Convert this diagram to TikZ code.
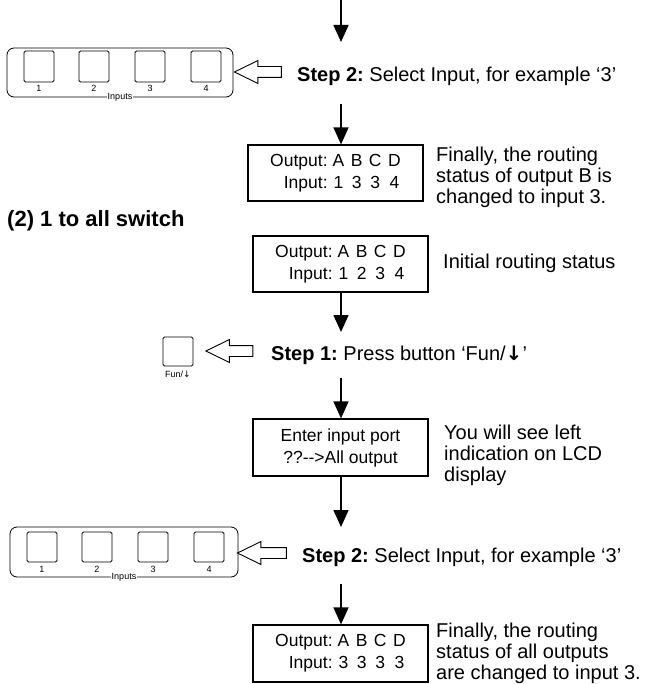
\documentclass[tikz,border=0pt]{standalone}
\usepackage{fontspec}
\setmainfont{Liberation Sans}
\newfontfamily\arrowfont{DejaVu Sans}
\usetikzlibrary{arrows.meta,shapes.arrows}

\newcommand{\routing}[4]{\begin{tabular}{@{}r@{\hspace{5pt}}c@{\hspace{6.5pt}}c@{\hspace{6.5pt}}c@{\hspace{6.5pt}}c@{}}Output: & A & B & C & D\\ Input: & #1 & #2 & #3 & #4\end{tabular}}

\begin{document}
\begin{tikzpicture}[x=1pt,y=-1pt,
    flow/.style={line width=1.6pt,-{Triangle[width=15pt,length=17pt]}},
    lcd/.style={draw,line width=1.2pt,minimum width=175pt,minimum height=56pt,inner sep=0pt,font=\fontsize{17.5}{22}\selectfont},
    note/.style={anchor=base west,align=left,inner sep=0pt,font=\fontsize{20}{21}\selectfont},
    steptxt/.style={anchor=base west,inner sep=0pt,font=\fontsize{20}{24}\selectfont},
    hollow/.style={single arrow,draw,line width=0.9pt,rotate=180,inner xsep=0pt,inner ysep=5pt,single arrow head extend=6pt,single arrow tip angle=52,minimum height=47pt},
    panel/.style={draw,rounded corners=7pt,line width=0.8pt},
    key/.style={draw,rounded corners=1.5pt,line width=0.8pt,minimum width=30pt,minimum height=30pt,inner sep=0pt},
    keynum/.style={font=\fontsize{9}{9}\selectfont,inner sep=0pt}]
    \useasboundingbox (0,0) rectangle (651,684);

    % input panel, step 2 of the first part
    \node[panel,minimum width=226pt,minimum height=49pt] at (120,72.5) (ptop) {};
    \foreach \i/\x in {1/39,2/94,3/150,4/206}{
        \node[key,minimum height=31pt] at (\x,66.5) (ka\i) {};
        \node[keynum] at (\x,88) (na\i) {\i};
    }
    \node[keynum,fill=white,inner xsep=1pt] at (ptop.south) (ia) {Inputs};
    \node[hollow] at (263.5,72) (ha1) {};
    \node[steptxt] at (297,82) (st2a) {\textbf{Step 2:}~Select Input, for example ‘3’};

    \coordinate (top) at (341,0);
    \coordinate (a0) at (341,42);
    \draw[flow] (top) -- (a0);
    \coordinate (a1) at (341,104);

    \node[lcd] at (335.5,173) (lcd1) {\routing{1}{3}{3}{4}};
    \node[note] at (436,204) (t1) {Finally, the routing\\status of output B is\\changed to input 3.};
    \draw[flow] (a1) -- (a1 |- lcd1.north);

    % (2) 1 to all
    \node[anchor=base west,inner sep=0pt,font=\bfseries\fontsize{22}{24}\selectfont] at (7,227) (sec2) {(2) 1 to all switch};

    \node[lcd] at (340.5,264) (lcd2) {\routing{1}{2}{3}{4}};
    \node[note] at (443,268) (t2) {Initial routing status};

    \coordinate (a2) at (341,332);
    \draw[flow] (a2 |- lcd2.south) -- (a2);

    \node[key,minimum height=29pt] at (178,351.5) (fun) {};
    \node[keynum,font=\fontsize{9}{9}\selectfont] at (178,374) (funlbl) {Fun/{\arrowfont ↓}};
    \node[hollow] at (235,351) (ha2) {};
    \node[steptxt] at (271,360) (st1) {\textbf{Step 1:}~Press button ‘Fun/{\arrowfont\bfseries ↓}’};

    \coordinate (a3) at (341,378);
    \node[lcd,minimum height=57pt,align=center] at (340.5,447.5) (lcd3) {Enter input port\\?{}?-{}-{}>All output};
    \node[note] at (444,481) (t3) {You will see left\\indication on LCD\\display};
    \draw[flow] (a3) -- (a3 |- lcd3.north);

    \coordinate (a4) at (341,527);
    \draw[flow] (a4 |- lcd3.south) -- (a4);

    % input panel, step 2 of the second part
    \node[panel,minimum width=228pt,minimum height=50pt] at (124,552) (pbot) {};
    \foreach \i/\x in {1/42,2/97,3/153,4/209}{
        \node[key] at (\x,547) (kb\i) {};
        \node[keynum] at (\x,569) (nb\i) {\i};
    }
    \node[keynum,fill=white,inner xsep=1pt] at (pbot.south) (ib) {Inputs};
    \node[hollow,minimum height=49pt] at (267.5,553) (ha3) {};
    \node[steptxt] at (302,562) (st2b) {\textbf{Step 2:}~Select Input, for example ‘3’};

    \coordinate (a5) at (341,584);
    \node[lcd,minimum height=57pt] at (340.5,653.5) (lcd4) {\routing{3}{3}{3}{3}};
    \node[note] at (436,679) (t4) {Finally, the routing\\status of all outputs\\are changed to input 3.};
    \draw[flow] (a5) -- (a5 |- lcd4.north);
\end{tikzpicture}
\end{document}
